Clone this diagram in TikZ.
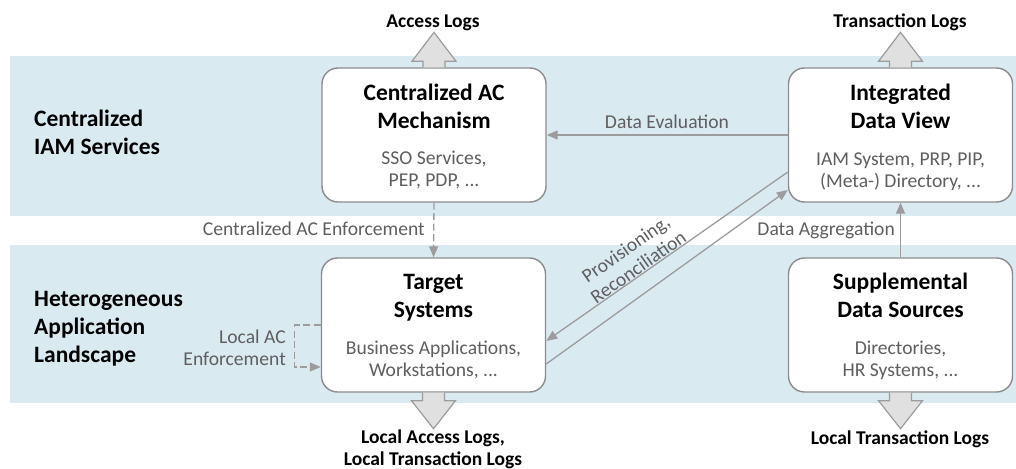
\documentclass[tikz,border=0pt]{standalone}
\usepackage{fontspec}
\setmainfont{Carlito}
\usetikzlibrary{arrows.meta,calc}
\definecolor{bandblue}{HTML}{DAEAF1}
\definecolor{edgegray}{HTML}{8C8C8C}
\definecolor{linegray}{HTML}{9C9C9C}
\definecolor{textgray}{HTML}{5F5F5F}
\definecolor{arrowfill}{HTML}{E0E0E0}

\begin{document}
\begin{tikzpicture}[x=1pt,y=-1pt,
  band/.style={fill=bandblue, draw=none},
  sysbox/.style={draw=edgegray, line width=1.4pt, fill=white, rounded corners=16pt,
    minimum width=224pt, minimum height=134pt, inner sep=0pt},
  title/.style={font=\fontsize{23.5}{27.5}\selectfont\bfseries, align=center, text=black,
    inner sep=0pt, anchor=base},
  detail/.style={font=\fontsize{19.6}{21.5}\selectfont, align=center, text=textgray,
    inner sep=0pt, anchor=base},
  layer/.style={font=\fontsize{23.5}{28}\selectfont\bfseries, align=left, anchor=base west,
    inner sep=0pt},
  loglabel/.style={font=\fontsize{19.5}{22}\selectfont\bfseries, align=center,
    inner sep=0pt, anchor=base},
  flowlabel/.style={font=\fontsize{19.6}{22}\selectfont, text=textgray, inner sep=0pt},
  flow/.style={draw=linegray, line width=1.3pt, -{Triangle[length=11pt,width=9pt]}},
  localdash/.style={dash pattern=on 7pt off 3.5pt},
  blockarrow/.style={draw=linegray, line width=1.2pt, fill=arrowfill, line join=miter},
]
\useasboundingbox (0,0) rectangle (1016,468);

% layer bands
\fill[band] (10,56) rectangle (1016,216);
\fill[band] (10,245) rectangle (1016,403);

\node[layer] (lyrtop) at (34,154) {Centralized\\IAM Services};
\node[layer] (lyrbot) at (34,362) {Heterogeneous\\Application\\Landscape};

% system boxes
\node[sysbox] (cac) at (434,135) {};
\node[sysbox] (idv) at (900.5,135) {};
\node[sysbox] (tgt) at (433.5,325) {};
\node[sysbox] (sup) at (900.5,325) {};

\node[title] (cacT) at ($(cac.north)+(0,61)$) {Centralized AC\\Mechanism};
\node[detail] (cacD) at ($(cac.north)+(0,119)$) {SSO Services,\\PEP, PDP, ...};
\node[title] (idvT) at ($(idv.north)+(0,61)$) {Integrated\\Data View};
\node[detail] (idvD) at ($(idv.north)+(0,120)$) {IAM System, PRP, PIP,\\(Meta-) Directory, ...};
\node[title] (tgtT) at ($(tgt.north)+(0,60)$) {Target\\Systems};
\node[detail] (tgtD) at ($(tgt.north)+(0,119)$) {Business Applications,\\Workstations, ...};
\node[title] (supT) at ($(sup.north)+(0,60)$) {Supplemental\\Data Sources};
\node[detail] (supD) at ($(sup.north)+(0,119)$) {Directories,\\HR Systems, ...};

% log outputs (block arrows)
\draw[blockarrow] ($(cac.north)+(-11,0)$) -- ++(0,-6) -- ++(-11,0) -- ++(22,-29)
  -- ++(22,29) -- ++(-11,0) -- ++(0,6);
\draw[blockarrow] ($(idv.north)+(-11,0)$) -- ++(0,-6) -- ++(-11,0) -- ++(22,-29)
  -- ++(22,29) -- ++(-11,0) -- ++(0,6);
\draw[blockarrow] ($(tgt.south)+(-11,0)$) -- ++(0,8) -- ++(-11,0) -- ++(22,28)
  -- ++(22,-28) -- ++(-11,0) -- ++(0,-8);
\draw[blockarrow] ($(sup.south)+(-11,0)$) -- ++(0,8) -- ++(-11,0) -- ++(22,28)
  -- ++(22,-28) -- ++(-11,0) -- ++(0,-8);

\node[loglabel] (accl) at (433,27.5) {Access Logs};
\node[loglabel] (trl) at (900,27.5) {Transaction Logs};
\node[loglabel] (lacc) at (433,465) {Local Access Logs,\\Local Transaction Logs};
\node[loglabel] (ltrl) at (900,444) {Local Transaction Logs};

% flows between the boxes
\draw[flow] (idv.west) -- (cac.east);
\node[flowlabel, anchor=base] (evalL) at (667,128.5) {Data Evaluation};
\draw[flow, localdash] (cac.south) -- (tgt.north);
\node[flowlabel, anchor=base east] (caeL) at (425,235.5) {Centralized AC Enforcement};
\draw[flow] (sup.north) -- (idv.south);
\node[flowlabel, anchor=base east] (aggL) at (895,235.5) {Data Aggregation};

\draw[flow] ($(idv.west)+(0,37)$) -- ($(tgt.east)+(0,16)$);
\draw[flow] ($(tgt.east)+(0,39)$) -- ($(idv.west)+(0,55)$);
\path ($(tgt.east)+(0,16)$) -- ($(idv.west)+(0,37)$)
  node[flowlabel, pos=0.40, sloped, above=1pt, align=center] (provL) {Provisioning,\\Reconciliation};

\draw[flow, localdash] (tgt.west) -- ++(-26,0) -- ++(0,42) -- ++(26,0);
\node[flowlabel, align=right, anchor=base east] (lacL) at (286,365) {Local AC\\Enforcement};
\end{tikzpicture}
\end{document}
